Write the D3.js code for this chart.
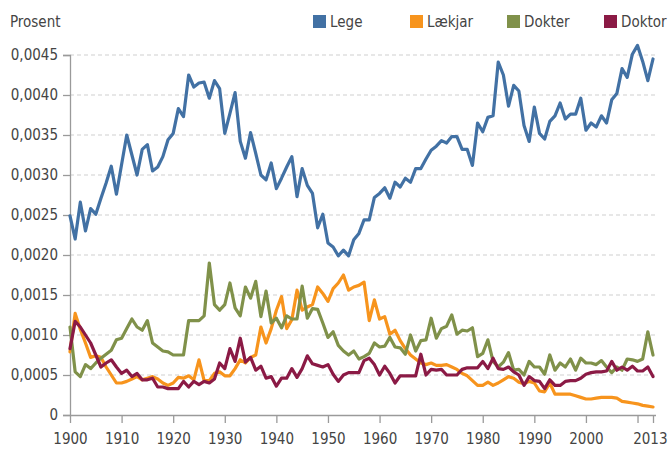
<!DOCTYPE html>
<html>
<head>
<meta charset="utf-8">
<script src="https://cdn.jsdelivr.net/npm/d3@7"></script>
<style>
  body { margin: 0; background: #fff; }
  svg text { font-family: "Liberation Sans Narrow", "DejaVu Sans Condensed", sans-serif; }
</style>
</head>
<body>
<script>
// data, one value per year 1900-2013
const firstYear = 1900;

const lege = [
  0.00249, 0.00220, 0.00266, 0.00230, 0.00258, 0.00251, 0.00271, 0.00290, 0.00311, 0.00276,
  0.00313, 0.00350, 0.00325, 0.00300, 0.00332, 0.00338, 0.00305, 0.00310, 0.00323, 0.00344,
  0.00352, 0.00383, 0.00373, 0.00425, 0.00410, 0.00415, 0.00416, 0.00396, 0.00418, 0.00408,
  0.00352, 0.00377, 0.00403, 0.00342, 0.00321, 0.00353, 0.00327, 0.00300, 0.00294, 0.00315,
  0.00283, 0.00296, 0.00310, 0.00323, 0.00273, 0.00308, 0.00287, 0.00277, 0.00234, 0.00251,
  0.00215, 0.00210, 0.00199, 0.00206, 0.00199, 0.00219, 0.00227, 0.00244, 0.00244, 0.00272,
  0.00277, 0.00284, 0.00271, 0.00291, 0.00285, 0.00296, 0.00291, 0.00308, 0.00308, 0.00320,
  0.00331, 0.00336, 0.00343, 0.00340, 0.00348, 0.00348, 0.00332, 0.00332, 0.00312, 0.00365,
  0.00354, 0.00372, 0.00374, 0.00441, 0.00425, 0.00386, 0.00412, 0.00405, 0.00362, 0.00342,
  0.00385, 0.00352, 0.00345, 0.00367, 0.00374, 0.00390, 0.00370, 0.00376, 0.00376, 0.00396,
  0.00356, 0.00365, 0.00360, 0.00374, 0.00365, 0.00394, 0.00402, 0.00433, 0.00422, 0.00451,
  0.00462, 0.00442, 0.00418, 0.00445
];

const laekjar = [
  0.00079, 0.00127, 0.00107, 0.00090, 0.00072, 0.00074, 0.00072, 0.00060, 0.00050, 0.00040,
  0.00040, 0.00042, 0.00045, 0.00048, 0.00044, 0.00046, 0.00048, 0.00045, 0.00040, 0.00037,
  0.00040, 0.00047, 0.00046, 0.00049, 0.00044, 0.00069, 0.00043, 0.00043, 0.00052, 0.00054,
  0.00049, 0.00049, 0.00058, 0.00069, 0.00065, 0.00072, 0.00075, 0.00110, 0.00090, 0.00108,
  0.00131, 0.00148, 0.00108, 0.00119, 0.00156, 0.00131, 0.00135, 0.00138, 0.00160, 0.00152,
  0.00142, 0.00158, 0.00165, 0.00175, 0.00156, 0.00160, 0.00162, 0.00166, 0.00118, 0.00144,
  0.00120, 0.00123, 0.00101, 0.00106, 0.00093, 0.00083, 0.00075, 0.00070, 0.00065, 0.00063,
  0.00065, 0.00062, 0.00062, 0.00063, 0.00060, 0.00057, 0.00052, 0.00049, 0.00043, 0.00037,
  0.00037, 0.00041, 0.00037, 0.00040, 0.00044, 0.00048, 0.00046, 0.00041, 0.00039, 0.00042,
  0.00040, 0.00030, 0.00029, 0.00040, 0.00026, 0.00026, 0.00026, 0.00026, 0.00024, 0.00022,
  0.00020, 0.00020, 0.00021, 0.00022, 0.00022, 0.00022, 0.00021, 0.00017, 0.00016, 0.00015,
  0.00014, 0.00012, 0.00011, 0.00010
];

const dokter = [
  0.00110, 0.00054, 0.00048, 0.00063, 0.00058, 0.00065, 0.00071, 0.00076, 0.00081, 0.00094,
  0.00096, 0.00108, 0.00120, 0.00110, 0.00106, 0.00118, 0.00090, 0.00085, 0.00080, 0.00079,
  0.00075, 0.00075, 0.00075, 0.00118, 0.00118, 0.00118, 0.00124, 0.00190, 0.00138, 0.00131,
  0.00138, 0.00165, 0.00134, 0.00124, 0.00160, 0.00146, 0.00167, 0.00123, 0.00155, 0.00115,
  0.00121, 0.00109, 0.00124, 0.00120, 0.00120, 0.00161, 0.00121, 0.00133, 0.00132, 0.00115,
  0.00097, 0.00104, 0.00087, 0.00080, 0.00075, 0.00080, 0.00070, 0.00073, 0.00077, 0.00090,
  0.00085, 0.00086, 0.00097, 0.00085, 0.00084, 0.00076, 0.00100, 0.00080, 0.00093, 0.00094,
  0.00121, 0.00096, 0.00108, 0.00111, 0.00125, 0.00101, 0.00106, 0.00105, 0.00109, 0.00073,
  0.00077, 0.00094, 0.00067, 0.00060, 0.00066, 0.00078, 0.00056, 0.00057, 0.00050, 0.00067,
  0.00060, 0.00060, 0.00051, 0.00075, 0.00056, 0.00065, 0.00060, 0.00070, 0.00056, 0.00071,
  0.00065, 0.00065, 0.00063, 0.00068, 0.00060, 0.00053, 0.00060, 0.00056, 0.00070, 0.00069,
  0.00067, 0.00070, 0.00104, 0.00075
];

const doktor = [
  0.00083, 0.00117, 0.00110, 0.00100, 0.00090, 0.00075, 0.00060, 0.00065, 0.00069, 0.00060,
  0.00052, 0.00056, 0.00048, 0.00052, 0.00044, 0.00044, 0.00046, 0.00035, 0.00035, 0.00033,
  0.00033, 0.00033, 0.00042, 0.00035, 0.00042, 0.00038, 0.00042, 0.00040, 0.00045, 0.00065,
  0.00058, 0.00083, 0.00067, 0.00096, 0.00066, 0.00072, 0.00056, 0.00061, 0.00046, 0.00048,
  0.00036, 0.00046, 0.00046, 0.00058, 0.00047, 0.00058, 0.00074, 0.00064, 0.00062, 0.00060,
  0.00063, 0.00051, 0.00042, 0.00050, 0.00053, 0.00053, 0.00053, 0.00068, 0.00071, 0.00063,
  0.00050, 0.00061, 0.00052, 0.00040, 0.00049, 0.00049, 0.00049, 0.00049, 0.00076, 0.00050,
  0.00057, 0.00056, 0.00057, 0.00050, 0.00050, 0.00050, 0.00057, 0.00059, 0.00059, 0.00059,
  0.00067, 0.00058, 0.00071, 0.00058, 0.00057, 0.00060, 0.00054, 0.00050, 0.00037, 0.00048,
  0.00043, 0.00042, 0.00033, 0.00044, 0.00037, 0.00037, 0.00042, 0.00043, 0.00043, 0.00046,
  0.00051, 0.00053, 0.00054, 0.00054, 0.00055, 0.00067, 0.00056, 0.00060, 0.00056, 0.00061,
  0.00055, 0.00055, 0.00060, 0.00048
];

const seriesNames = ["Lege", "Lækjar", "Dokter", "Doktor"];
const seriesColors = ["#4271a4", "#f7941d", "#80914a", "#8b1a45"];
const xTicks = [1900, 1910, 1920, 1930, 1940, 1950, 1960, 1970, 1980, 1990, 2000, 2010, 2013];
const xTickLabels = ["1900", "1910", "1920", "1930", "1940", "1950", "1960", "1970", "1980", "1990", "2000", "", "2013"];
const yTicks = [0, 0.0005, 0.001, 0.0015, 0.002, 0.0025, 0.003, 0.0035, 0.004, 0.0045];

const WIDTH = 669;
const HEIGHT = 450;
const FONT_SIZE = "15px";

const allSeries = [lege, laekjar, dokter, doktor];

const svg = d3.select("body")
  .append("svg")
  .attr("width", WIDTH)
  .attr("height", HEIGHT);

const x = d3.scaleLinear().domain([1900, 2013]).range([70, 653]);
const y = d3.scaleLinear().domain([0, 0.0045]).range([415, 55]);

// dashed grid
svg.append("g")
  .selectAll("line")
  .data(yTicks.filter(d => d > 0))
  .enter()
  .append("line")
  .attr("x1", 70)
  .attr("x2", 656)
  .attr("y1", d => y(d))
  .attr("y2", d => y(d))
  .attr("stroke", "#cfcfcf")
  .attr("stroke-width", 1.2)
  .attr("stroke-dasharray", "4,3");

// y axis
const yAxis = svg.append("g")
  .attr("transform", "translate(70,0)")
  .call(d3.axisLeft(y)
    .tickValues(yTicks)
    .tickSize(7)
    .tickPadding(5)
    .tickFormat(d => d === 0 ? "0" : d3.format(".4f")(d).replace(".", ",")));

// x axis
const xAxis = svg.append("g")
  .attr("transform", "translate(0,415)")
  .call(d3.axisBottom(x)
    .tickValues(xTicks)
    .tickSize(8)
    .tickPadding(10)
    .tickFormat((d, i) => xTickLabels[i]));

xAxis.select(".domain").attr("d", "M70,0.5H656");

[yAxis, xAxis].forEach(a => {
  a.select(".domain").attr("stroke", "#9a9a9a").attr("stroke-width", 1.3);
  a.selectAll(".tick line").attr("stroke", "#9a9a9a").attr("stroke-width", 1.3);
  a.selectAll(".tick text")
    .attr("fill", "#444")
    .style("font-size", FONT_SIZE)
    .style("font-family", "'Liberation Sans Narrow', 'DejaVu Sans Condensed', sans-serif");
});

// keep the last year label inside the picture
xAxis.selectAll(".tick text")
  .filter(d => d === 2013)
  .attr("text-anchor", "end")
  .attr("dx", 14);

// lines
const line = d3.line()
  .x((d, i) => x(firstYear + i))
  .y(d => y(d))
  .curve(d3.curveLinear);

svg.append("g")
  .selectAll("path")
  .data(allSeries)
  .enter()
  .append("path")
  .attr("d", d => line(d))
  .attr("fill", "none")
  .attr("stroke", (d, i) => seriesColors[i])
  .attr("stroke-width", 3.2)
  .attr("stroke-linejoin", "round")
  .attr("stroke-linecap", "round");

// title
svg.append("text")
  .attr("x", 10)
  .attr("y", 27)
  .attr("fill", "#444")
  .style("font-size", FONT_SIZE)
  .text("Prosent");

// legend
const legend = svg.append("g")
  .selectAll("g")
  .data(seriesNames)
  .enter()
  .append("g")
  .attr("transform", (d, i) => "translate(" + (313 + i * 97) + ",15)");

legend.append("rect")
  .attr("width", 13)
  .attr("height", 13)
  .attr("fill", (d, i) => seriesColors[i]);

legend.append("text")
  .attr("x", 17)
  .attr("y", 12)
  .attr("fill", "#444")
  .style("font-size", FONT_SIZE)
  .text(d => d);
</script>
</body>
</html>
